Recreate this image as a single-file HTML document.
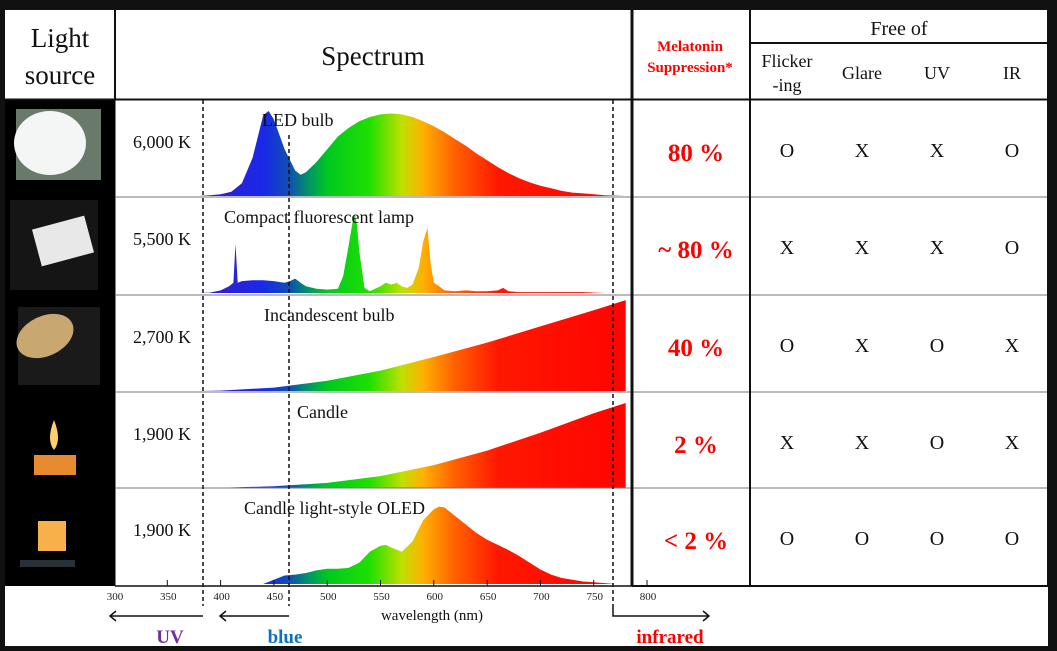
<!DOCTYPE html>
<html><head><meta charset="utf-8">
<style>
html,body{margin:0;padding:0;background:#111;}
svg{display:block;font-family:"Liberation Serif",serif;}
</style></head>
<body>
<svg id="chart" width="1057" height="651" viewBox="0 0 1057 651" xmlns="http://www.w3.org/2000/svg">
<defs>
<linearGradient id="spec" gradientUnits="userSpaceOnUse" x1="114" y1="0" x2="647" y2="0">
</linearGradient>
</defs>
<rect x="0" y="0" width="1057" height="651" fill="#111"/>
<rect x="5" y="9" width="1043" height="637" fill="#fff"/>
<rect x="5" y="100" width="110" height="486" fill="#000"/>
<g id="photos"></g>
<g id="spectra"></g>
<g id="grid"></g>
<g id="texts"></g>
<g id="axis"></g>
</svg>
<script>
// ---- data ----
const rowLabels = ["LED bulb","Compact fluorescent lamp","Incandescent bulb","Candle","Candle light-style OLED"];
const colorTemps = ["6,000 K","5,500 K","2,700 K","1,900 K","1,900 K"];
const melatonin = ["80 %","~ 80 %","40 %","2 %","< 2 %"];
const freeOfCols = ["Flicker\n-ing","Glare","UV","IR"];
const freeOf = [["O","X","X","O"],["X","X","X","O"],["O","X","O","X"],["X","X","O","X"],["O","O","O","O"]];
const axisTicks = [300,350,400,450,500,550,600,650,700,750,800];
const ledWl = [380,390,400,410,420,430,440,445,450,460,470,475,480,490,500,510,520,530,540,550,560,570,580,590,600,610,620,630,640,650,660,670,680,690,700,710,720,730,740,750,760,770,780];
const ledVal = [0,0.01,0.02,0.05,0.15,0.45,0.95,1.0,0.9,0.55,0.3,0.25,0.28,0.4,0.55,0.7,0.8,0.88,0.93,0.96,0.97,0.96,0.93,0.88,0.82,0.75,0.67,0.59,0.5,0.42,0.34,0.27,0.21,0.16,0.12,0.09,0.06,0.04,0.03,0.02,0.01,0.005,0];
const cflWl = [380,390,400,408,412,414,416,420,430,440,450,460,465,470,475,480,490,500,510,515,520,524,526,528,530,535,540,550,555,560,565,570,575,580,586,590,594,597,600,605,610,620,630,640,650,660,665,670,680,700,720,740,760,770];
const cflVal = [0,0.005,0.03,0.08,0.12,0.58,0.12,0.14,0.15,0.15,0.14,0.12,0.14,0.17,0.12,0.08,0.05,0.04,0.05,0.2,0.55,0.85,0.92,0.8,0.5,0.06,0.02,0.08,0.12,0.1,0.12,0.08,0.06,0.1,0.3,0.6,0.77,0.35,0.12,0.08,0.03,0.02,0.03,0.02,0.02,0.03,0.06,0.02,0.01,0.01,0.01,0.01,0,0];
const incWl = [380,400,450,500,550,600,650,700,750,780];
const incVal = [0,0.005,0.04,0.12,0.24,0.4,0.57,0.76,0.95,1.07];
const canWl = [380,400,450,500,550,600,650,700,750,780];
const canVal = [0,0.003,0.02,0.06,0.14,0.27,0.44,0.65,0.88,1.0];
const oledWl = [440,450,460,470,480,490,500,510,520,530,540,550,555,560,570,580,590,600,605,610,620,630,640,650,660,670,680,690,700,710,720,730,740,750,760,770];
const oledVal = [0,0.05,0.1,0.11,0.13,0.16,0.18,0.18,0.19,0.25,0.38,0.45,0.46,0.43,0.38,0.5,0.75,0.88,0.91,0.9,0.8,0.7,0.6,0.52,0.46,0.4,0.33,0.25,0.17,0.11,0.07,0.05,0.03,0.02,0.01,0];
const seriesWl = [ledWl,cflWl,incWl,canWl,oledWl];
const seriesVal = [ledVal,cflVal,incVal,canVal,oledVal];

// ---- layout ----
const NS="http://www.w3.org/2000/svg";
const rowTops=[100,197,295,392,488], rowH=97, specH=85;
const xScale = wl => 114 + (wl-300)*1.066;
const yScale = (v,r) => rowTops[r]+rowH-1 - v*specH;
function mk(tag,attrs,parent){const e=document.createElementNS(NS,tag);for(const k in attrs)e.setAttribute(k,attrs[k]);parent.appendChild(e);return e;}

const grad=document.getElementById('spec');
[[300,'#5a2cc0'],[400,'#3020d0'],[440,'#1a28e8'],[465,'#1050b0'],[480,'#008c70'],[500,'#00c820'],[540,'#20e000'],[570,'#c0e000'],[590,'#ffb000'],[620,'#ff6000'],[660,'#ff1800'],[800,'#ff0000']].forEach(s=>{
  mk('stop',{offset:((xScale(s[0])-114)/533).toFixed(3),'stop-color':s[1]},grad);
});

const spectra=document.getElementById('spectra');
seriesWl.forEach((wls,r)=>{
  const vals=seriesVal[r];
  let d='M'+xScale(wls[0]).toFixed(1)+','+yScale(0,r).toFixed(1);
  wls.forEach((w,i)=>{d+=' L'+xScale(w).toFixed(1)+','+yScale(vals[i],r).toFixed(1);});
  d+=' L'+xScale(wls[wls.length-1]).toFixed(1)+','+yScale(0,r).toFixed(1)+' Z';
  const p=mk('path',{d:d,fill:'url(#spec)'},spectra);
  
  
});

const g=document.getElementById('grid');
function line(x1,y1,x2,y2,st,w,name,dash){const l=mk('line',{x1,y1,x2,y2,stroke:st,'stroke-width':w},g);if(dash)l.setAttribute('stroke-dasharray',dash);return l;}
line(5,9,1048,9,'#111',2,'top-border');
line(5,99.5,1048,99.5,'#111',2,'header-bottom-line');
line(115,9,115,99,'#111',2,'header-divider-left');
line(115,100,115,586,'#000',1,'photo-divider');
for(let r=1;r<5;r++){line(115,rowTops[r],1048,rowTops[r],'#777',1,'row-line-'+r);}
line(115,586,632,586,'#111',1.5,'axis-baseline');
line(632,586,1048,586,'#111',2,'table-bottom-line');
line(632,9,632,586,'#111',3,'melatonin-left-border');
line(750,9,750,586,'#111',2,'freeof-left-border');
line(1048,9,1048,586,'#111',2,'right-border');
line(750,43,1048,43,'#111',2,'freeof-header-line');
line(203,100,203,606,'#111',1.5,'uv-dashed-line','4,3');
line(289,135,289,606,'#111',1.5,'blue-dashed-line','4,3');
line(613,100,613,606,'#111',1.5,'infrared-dashed-line','4,3');

const t=document.getElementById('texts');
function txt(x,y,s,opt,name){const e=mk('text',Object.assign({x,y,'font-size':18,fill:'#111','text-anchor':'middle'},opt||{}),t);e.textContent=s;return e;}
txt(60,47,'Light',{'font-size':27},'header-light-source');
txt(60,84,'source',{'font-size':27},'header-light-source-2');
txt(373,65,'Spectrum',{'font-size':27},'header-spectrum');
txt(690,51,'Melatonin',{'font-size':15,'font-weight':'bold',fill:'#f00'},'header-melatonin');
txt(690,72,'Suppression*',{'font-size':15,'font-weight':'bold',fill:'#f00'},'header-melatonin-2');
txt(899,35,'Free of',{'font-size':20},'header-free-of');
const colX=[787,862,937,1012];
freeOfCols.forEach((c,i)=>{const parts=c.split('\n');
  if(parts.length>1){txt(colX[i],67,parts[0],{},'header-flicker');txt(colX[i],91,parts[1],{},'header-flicker-2');}
  else txt(colX[i],79,c,{},'header-'+c.toLowerCase());});
const labelX=[262,224,264,297,244];
rowLabels.forEach((lab,r)=>{
  const y0=rowTops[r];
  txt(labelX[r],y0+26,lab,{'text-anchor':'start','font-size':18},'label-'+r);
  txt(162,y0+48,colorTemps[r],{'font-size':18},'color-temp-'+r);
  txt(696,y0+61,melatonin[r],{'font-size':25,'font-weight':'bold',fill:'#f00'},'melatonin-value-'+r);
  freeOf[r].forEach((v,i)=>txt(colX[i],y0+57,v,{'font-size':20},'free-of-'+r+'-'+i));
});

const ax=document.getElementById('axis');
axisTicks.forEach(v=>{
  const x=xScale(v);
  const l=mk('line',{x1:x,y1:580,x2:x,y2:586,stroke:'#111','stroke-width':1},ax);
  
  const e=mk('text',{x:x+1,y:600,'font-size':11,'text-anchor':'middle',fill:'#222'},ax);
  e.textContent=v;
});
txt(432,620,'wavelength  (nm)',{'font-size':15},'x-axis-title');
function arrow(x1,x2,y,name){const d=x2<x1?1:-1;const p=mk('path',{d:`M${x1},${y} L${x2},${y} M${x2+6*d},${y-5} L${x2},${y} L${x2+6*d},${y+5}`,stroke:'#111','stroke-width':1.5,fill:'none'},ax);}
arrow(203,110,616,'uv-arrow');
arrow(289,220,616,'blue-arrow');
const ir=mk('path',{d:'M613,606 L613,616 L709,616 M703,611 L709,616 L703,621',stroke:'#111','stroke-width':1.5,fill:'none'},ax);

txt(170,643,'UV',{'font-size':19,'font-weight':'bold',fill:'#7030a0'},'uv-label');
txt(285,643,'blue',{'font-size':19,'font-weight':'bold',fill:'#1070c0'},'blue-label');
txt(670,643,'infrared',{'font-size':19,'font-weight':'bold',fill:'#f00'},'infrared-label');

const ph=document.getElementById('photos');
function ph_(tag,a,name){const e=mk(tag,a,ph);return e;}
ph_('rect',{x:16,y:109,width:85,height:71,fill:'#6a7a6a'},'photo-led-bg');
ph_('ellipse',{cx:50,cy:143,rx:36,ry:32,fill:'#f4f6f6'},'photo-led-bulb');
ph_('rect',{x:10,y:200,width:88,height:90,fill:'#151515'},'photo-cfl-bg');
ph_('rect',{x:36,y:222,width:54,height:38,fill:'#e8e8e8',transform:'rotate(-15 63 241)'},'photo-cfl-panel');
ph_('rect',{x:18,y:307,width:82,height:78,fill:'#1a1a1a'},'photo-incandescent-bg');
ph_('ellipse',{cx:45,cy:336,rx:30,ry:20,fill:'#c8a870',transform:'rotate(-25 45 336)'},'photo-incandescent-reflector');
ph_('path',{d:'M54,420 Q46,440 54,450 Q62,440 54,420 Z',fill:'#ffd070'},'photo-candle-flame');
ph_('rect',{x:34,y:455,width:42,height:20,fill:'#e88a30'},'photo-candle-body');
ph_('rect',{x:38,y:521,width:28,height:30,fill:'#f7b04a'},'photo-oled-square');
ph_('rect',{x:20,y:560,width:55,height:7,fill:'#283038'},'photo-oled-base');
</script>
</body></html>
